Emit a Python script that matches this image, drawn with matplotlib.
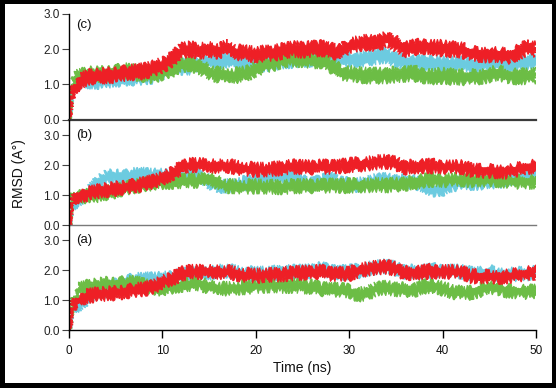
import numpy as np
import matplotlib
matplotlib.use('Agg')
import matplotlib.pyplot as plt
from matplotlib.patches import Rectangle

plt.rcParams['font.family'] = ['Liberation Sans', 'DejaVu Sans']

# 01 Data (centre of each noisy band, RMSD in A)
TimeNs = [0, 0.3] + list(range(1, 51))

# panel (c)
C_Cyan = [0.0, 0.9, 1.05, 1.1, 1.1, 1.12, 1.15, 1.2, 1.2, 1.22, 1.25, 1.35, 1.6, 1.5, 1.5, 1.6, 1.65,
          1.62, 1.7, 1.65, 1.62, 1.6, 1.6, 1.62, 1.68, 1.7, 1.72, 1.72, 1.73, 1.7, 1.7, 1.72, 1.72,
          1.75, 1.8, 1.82, 1.7, 1.62, 1.6, 1.6, 1.62, 1.58, 1.57, 1.57, 1.55, 1.57, 1.6, 1.6, 1.58,
          1.6, 1.62, 1.62]
C_Green = [0.0, 1.05, 1.2, 1.28, 1.28, 1.3, 1.35, 1.38, 1.35, 1.3, 1.25, 1.35, 1.42, 1.55, 1.6, 1.5,
           1.35, 1.27, 1.25, 1.25, 1.3, 1.45, 1.55, 1.62, 1.7, 1.73, 1.72, 1.68, 1.68, 1.55, 1.35,
           1.3, 1.27, 1.25, 1.25, 1.25, 1.28, 1.3, 1.3, 1.25, 1.22, 1.25, 1.22, 1.2, 1.2, 1.22, 1.28,
           1.32, 1.25, 1.22, 1.23, 1.25]
C_Red = [0.0, 0.75, 1.05, 1.2, 1.22, 1.25, 1.28, 1.32, 1.35, 1.38, 1.45, 1.55, 1.7, 1.95, 2.0, 1.95,
         1.98, 1.95, 2.05, 1.9, 1.88, 1.85, 1.88, 1.9, 1.95, 2.0, 1.99, 2.0, 2.03, 1.95, 1.9, 2.1,
         2.15, 2.2, 2.15, 2.3, 2.15, 2.0, 2.05, 2.08, 2.05, 2.03, 2.0, 1.97, 1.87, 1.85, 1.85, 1.83,
         1.8, 1.9, 2.03, 2.0]

# panel (b)
B_Cyan = [0.0, 0.7, 0.85, 1.05, 1.4, 1.6, 1.65, 1.62, 1.68, 1.68, 1.65, 1.65, 1.62, 1.62, 1.65, 1.62,
          1.45, 1.25, 1.3, 1.38, 1.4, 1.5, 1.55, 1.58, 1.58, 1.62, 1.45, 1.35, 1.45, 1.55, 1.38, 1.35,
          1.35, 1.4, 1.5, 1.5, 1.45, 1.45, 1.45, 1.3, 1.2, 1.22, 1.35, 1.4, 1.4, 1.42, 1.45, 1.45,
          1.55, 1.6, 1.6, 1.7]
B_Green = [0.0, 0.9, 1.0, 0.97, 1.0, 1.08, 1.15, 1.25, 1.3, 1.35, 1.4, 1.43, 1.45, 1.47, 1.48, 1.48,
           1.55, 1.4, 1.3, 1.3, 1.28, 1.3, 1.28, 1.28, 1.27, 1.3, 1.3, 1.3, 1.3, 1.32, 1.3, 1.32,
           1.33, 1.33, 1.35, 1.33, 1.35, 1.38, 1.42, 1.5, 1.52, 1.5, 1.5, 1.52, 1.5, 1.5, 1.52, 1.5,
           1.48, 1.45, 1.45, 1.43]
B_Red = [0.0, 0.75, 0.98, 1.05, 1.12, 1.17, 1.22, 1.28, 1.32, 1.38, 1.45, 1.55, 1.72, 1.9, 2.0, 2.0,
         1.97, 1.95, 1.98, 1.92, 1.88, 1.85, 1.85, 1.88, 1.92, 1.95, 1.93, 1.92, 1.95, 1.93, 1.95,
         2.0, 2.02, 2.05, 2.1, 2.12, 2.05, 1.92, 1.95, 1.98, 1.97, 1.95, 1.93, 1.93, 1.85, 1.8, 1.8,
         1.8, 1.78, 1.85, 1.93, 1.95]

# panel (a)
A_Cyan = [0.0, 0.7, 0.85, 1.1, 1.25, 1.35, 1.5, 1.62, 1.68, 1.7, 1.7, 1.72, 1.75, 1.82, 1.87, 1.88,
          1.9, 1.95, 2.0, 1.92, 1.9, 1.88, 1.9, 1.92, 1.93, 1.95, 1.95, 1.97, 2.05, 1.95, 1.92, 1.95,
          1.98, 2.05, 2.1, 2.15, 2.05, 1.95, 1.95, 1.97, 2.0, 1.98, 1.97, 1.95, 1.9, 1.88, 1.95, 1.88,
          1.85, 1.88, 1.9, 1.92]
A_Green = [0.0, 0.85, 1.35, 1.45, 1.5, 1.55, 1.55, 1.58, 1.6, 1.5, 1.42, 1.38, 1.45, 1.52, 1.55, 1.55,
           1.45, 1.4, 1.38, 1.42, 1.45, 1.48, 1.5, 1.5, 1.48, 1.5, 1.47, 1.45, 1.38, 1.35, 1.35, 1.3,
           1.2, 1.25, 1.4, 1.42, 1.38, 1.35, 1.35, 1.45, 1.5, 1.4, 1.28, 1.25, 1.25, 1.35, 1.45, 1.4,
           1.32, 1.3, 1.28, 1.3]
A_Red = [0.0, 0.8, 1.0, 1.15, 1.2, 1.22, 1.25, 1.3, 1.35, 1.38, 1.45, 1.6, 1.72, 1.88, 1.95, 1.95,
         1.95, 1.93, 1.95, 1.88, 1.85, 1.82, 1.85, 1.85, 1.88, 1.9, 1.92, 1.93, 1.95, 1.88, 1.87,
         1.88, 2.0, 2.05, 2.1, 2.12, 2.05, 1.9, 1.92, 1.95, 1.98, 1.96, 1.95, 1.93, 1.82, 1.78, 1.8,
         1.78, 1.8, 1.85, 1.9, 1.92]

# half thickness of the fluctuating band
Spread = 0.17

PanelLabels = ['(c)', '(b)', '(a)']
XTicks = [0, 10, 20, 30, 40, 50]
YTicks = [0, 1, 2, 3]
YTickLabels = ['0.0', '1.0', '2.0', '3.0']

Colors = {'cyan': '#6ccbe0', 'green': '#6cbd45', 'red': '#ee1f26'}

# 02 Figure
Figure = plt.figure(figsize=(5.56, 3.88), dpi=100, facecolor='black')
Figure.patches.append(Rectangle((5 / 556, 5 / 388), 547 / 556, 379 / 388, transform=Figure.transFigure,
                                facecolor='white', edgecolor='none', zorder=-10))

Left, Width = 69 / 556, 467 / 556
Boxes = [(0.692, 0.272), (0.4193, 0.2714), (0.1482, 0.2711)]
YTops = [3.0, 3.5, 3.5]
Panels = [(C_Cyan, C_Green, C_Red), (B_Cyan, B_Green, B_Red), (A_Cyan, A_Green, A_Red)]
Time = np.array(TimeNs, dtype=float)

for i in range(3):
    Axes = Figure.add_axes([Left, Boxes[i][0], Width, Boxes[i][1]])
    Axes.set_facecolor('none')
    for Series, Name in zip(Panels[i], ['cyan', 'green', 'red']):
        Values = np.array(Series)
        Outline_X = np.concatenate([Time, Time[::-1]])
        Outline_Y = np.concatenate([Values + Spread, (Values - Spread)[::-1]])
        Band = Axes.fill(Outline_X, Outline_Y, color=Colors[Name], linewidth=0.8)[0]
        Band.set_sketch_params(scale=2.8, length=1.2, randomness=6)   # ragged, noisy edge
    Axes.plot([0, 0], [0, Panels[i][2][1]], color=Colors['red'], linewidth=1)
    Axes.set_xlim(0, 50)
    Axes.set_ylim(0, YTops[i])
    Axes.set_yticks(YTicks)
    Axes.set_yticklabels(YTickLabels)
    Axes.tick_params(axis='y', direction='out', length=5, width=0.8, color='#444444', pad=1.5,
                     labelsize=8.5, labelcolor='#222222')
    Axes.spines['top'].set_visible(False)
    Axes.spines['right'].set_visible(False)
    Axes.spines['left'].set_color('black')
    Axes.spines['left'].set_linewidth(1)
    Axes.text(0.015, 3.0 if i > 0 else 2.7, PanelLabels[i], transform=Axes.get_yaxis_transform(),
              ha='left', va='center', fontsize=9.5, color='#111111')
    if i < 2:
        Axes.set_xticks([])
        Axes.spines['bottom'].set_color('#3a3a3a' if i == 0 else '#7a7a7a')
        Axes.spines['bottom'].set_linewidth(1.6 if i == 0 else 1.0)
    else:
        Axes.set_xticks(XTicks)
        Axes.tick_params(axis='x', direction='out', length=6, width=1, pad=4.5, labelsize=8.5,
                         labelcolor='#111111')
        for k, Tick in enumerate(Axes.xaxis.get_major_ticks()):
            Tick.tick1line.set_color('black' if k in (0, len(XTicks) - 1) else '#808080')
        Axes.spines['bottom'].set_color('black')
        Axes.spines['bottom'].set_linewidth(1)

Figure.text(19.5 / 556, 1 - 174 / 388, 'RMSD (A°)', rotation=90, ha='center', va='center', fontsize=10,
            color='#111111')
Figure.text(302.5 / 556, 1 - 368 / 388, 'Time (ns)', ha='center', va='center', fontsize=10,
            color='#111111')

plt.savefig('out.png', dpi=100, facecolor='black')
plt.close(Figure)
